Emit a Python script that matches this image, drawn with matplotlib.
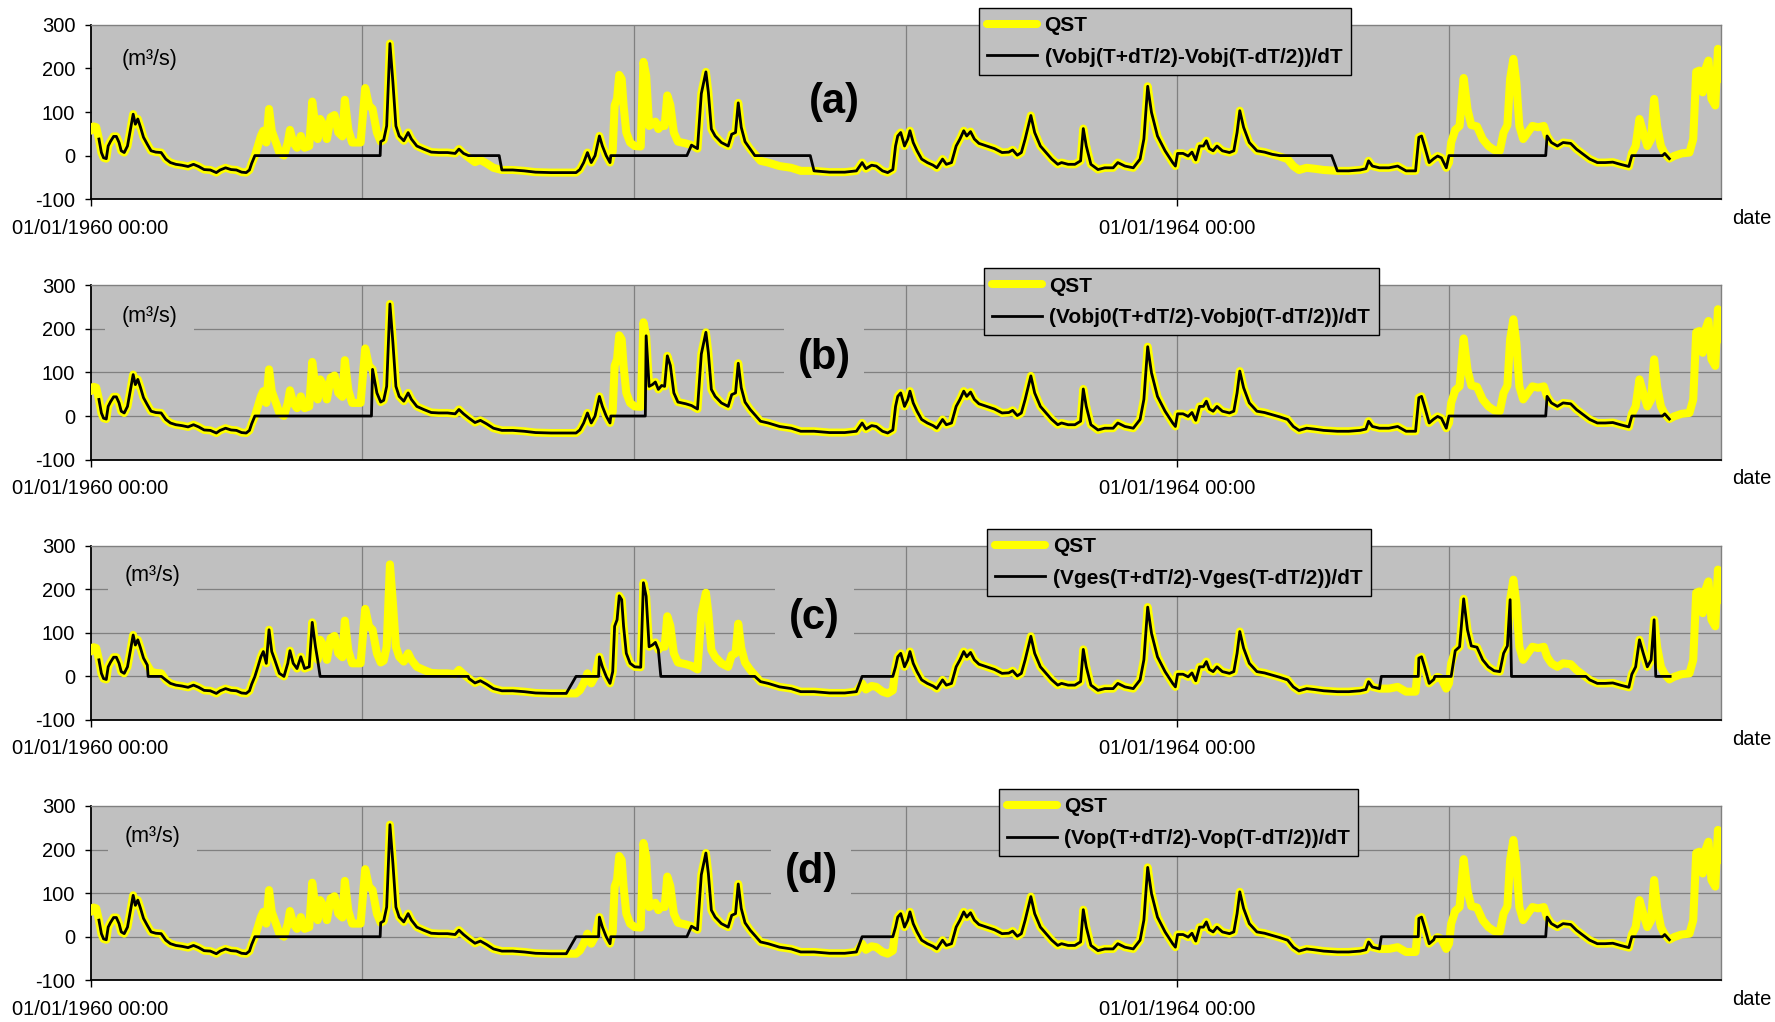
import numpy as np
import matplotlib
matplotlib.use("Agg")
import matplotlib.pyplot as plt

plt.rcParams['font.family'] = ['Liberation Sans', 'DejaVu Sans']
plt.rcParams['axes.unicode_minus'] = False

qst_t = [1960.000, 1960.011, 1960.021, 1960.031, 1960.040, 1960.048, 1960.058, 1960.065, 1960.073, 1960.085,
         1960.095, 1960.105, 1960.113, 1960.124, 1960.136, 1960.145, 1960.157, 1960.165, 1960.174, 1960.184,
         1960.195, 1960.209, 1960.223, 1960.240, 1960.260, 1960.277, 1960.294, 1960.314, 1960.336, 1960.359,
         1960.379, 1960.398, 1960.418, 1960.441, 1960.463, 1960.477, 1960.497, 1960.517, 1960.537, 1960.556,
         1960.573, 1960.585, 1960.593, 1960.605, 1960.616, 1960.627, 1960.636, 1960.647, 1960.657, 1960.667,
         1960.678, 1960.695, 1960.712, 1960.726, 1960.734, 1960.746, 1960.760, 1960.774, 1960.788, 1960.805,
         1960.816, 1960.828, 1960.836, 1960.845, 1960.856, 1960.870, 1960.884, 1960.898, 1960.912, 1960.927,
         1960.936, 1960.949, 1960.963, 1960.994, 1961.011, 1961.025, 1961.038, 1961.054, 1961.068, 1961.079,
         1961.090, 1961.102, 1961.113, 1961.124, 1961.136, 1961.153, 1961.169, 1961.181, 1961.201, 1961.226,
         1961.254, 1961.282, 1961.314, 1961.342, 1961.356, 1961.373, 1961.393, 1961.415, 1961.435, 1961.458,
         1961.483, 1961.514, 1961.554, 1961.596, 1961.638, 1961.695, 1961.751, 1961.787, 1961.801, 1961.815,
         1961.829, 1961.843, 1961.857, 1961.873, 1961.884, 1961.898, 1961.912, 1961.922, 1961.929, 1961.938,
         1961.946, 1961.955, 1961.962, 1961.972, 1961.986, 1962.003, 1962.025, 1962.035, 1962.045, 1962.056,
         1962.068, 1962.079, 1962.090, 1962.102, 1962.113, 1962.123, 1962.134, 1962.147, 1962.162, 1962.191,
         1962.212, 1962.234, 1962.243, 1962.248, 1962.265, 1962.274, 1962.285, 1962.299, 1962.322, 1962.347,
         1962.360, 1962.374, 1962.384, 1962.395, 1962.409, 1962.428, 1962.445, 1962.466, 1962.494, 1962.536,
         1962.579, 1962.614, 1962.663, 1962.720, 1962.776, 1962.819, 1962.840, 1962.854, 1962.875, 1962.892,
         1962.915, 1962.934, 1962.953, 1962.963, 1962.971, 1962.982, 1962.996, 1963.008, 1963.016, 1963.028,
         1963.042, 1963.059, 1963.080, 1963.101, 1963.115, 1963.136, 1963.150, 1963.169, 1963.186, 1963.200,
         1963.214, 1963.225, 1963.239, 1963.253, 1963.270, 1963.298, 1963.327, 1963.355, 1963.380, 1963.394,
         1963.411, 1963.426, 1963.440, 1963.461, 1963.475, 1963.496, 1963.517, 1963.538, 1963.560, 1963.574,
         1963.598, 1963.623, 1963.644, 1963.654, 1963.665, 1963.682, 1963.708, 1963.733, 1963.764, 1963.781,
         1963.807, 1963.838, 1963.863, 1963.877, 1963.891, 1963.905, 1963.927, 1963.955, 1963.983, 1963.993,
         1964.001, 1964.021, 1964.040, 1964.054, 1964.068, 1964.082, 1964.096, 1964.107, 1964.118, 1964.132,
         1964.146, 1964.166, 1964.192, 1964.208, 1964.220, 1964.230, 1964.244, 1964.265, 1964.293, 1964.321,
         1964.349, 1964.377, 1964.406, 1964.427, 1964.448, 1964.476, 1964.504, 1964.539, 1964.589, 1964.631,
         1964.673, 1964.694, 1964.704, 1964.718, 1964.744, 1964.779, 1964.811, 1964.842, 1964.877, 1964.889,
         1964.899, 1964.910, 1964.927, 1964.944, 1964.958, 1964.972, 1964.990, 1965.000, 1965.008, 1965.023,
         1965.039, 1965.054, 1965.068, 1965.082, 1965.103, 1965.124, 1965.145, 1965.166, 1965.187, 1965.201,
         1965.215, 1965.225, 1965.237, 1965.248, 1965.259, 1965.273, 1965.290, 1965.307, 1965.328, 1965.349,
         1965.361, 1965.377, 1965.399, 1965.420, 1965.448, 1965.469, 1965.490, 1965.518, 1965.546, 1965.575,
         1965.603, 1965.631, 1965.662, 1965.673, 1965.687, 1965.701, 1965.715, 1965.730, 1965.744, 1965.755,
         1965.766, 1965.780, 1965.794, 1965.811, 1965.828, 1965.856, 1965.885, 1965.899, 1965.910, 1965.921,
         1965.934, 1965.944, 1965.955, 1965.966, 1965.980, 1965.990, 1965.997]
qst_v = [57, 67, 65, 38, 7, -5, -7, 22, 32, 44,
         44, 30, 11, 7, 22, 53, 95, 72, 84, 65,
         42, 26, 11, 8, 7, -8, -16, -20, -22, -25,
         -20, -25, -32, -33, -39, -33, -28, -32, -33, -38,
         -39, -33, -18, 0, 22, 45, 57, 30, 107, 57,
         38, 7, 0, 30, 59, 30, 18, 45, 18, 22,
         124, 68, 38, 84, 72, 38, 88, 93, 53, 44,
         128, 59, 30, 30, 155, 115, 107, 53, 32, 36,
         68, 257, 168, 68, 45, 34, 53, 38, 22, 15,
         8, 7, 7, 5, 15, 5, -5, -15, -10, -18,
         -28, -33, -33, -35, -38, -39, -39, -39, -32, -16,
         7, -16, 0, 45, 22, 0, -16, 11, 115, 130,
         185, 176, 115, 53, 30, 22, 21, 215, 184, 68,
         72, 78, 61, 70, 68, 138, 116, 53, 32, 28,
         24, 16, 99, 142, 192, 145, 61, 45, 30, 22,
         49, 53, 121, 65, 32, 15, 3, -12, -16, -24,
         -28, -35, -35, -38, -38, -35, -16, -30, -22, -24,
         -35, -39, -32, 22, 45, 53, 22, 38, 57, 30,
         11, -8, -16, -22, -28, -8, -20, -16, 22, 38,
         57, 45, 55, 38, 28, 22, 16, 7, 8, 13,
         1, 7, 38, 92, 53, 22, 7, -8, -20, -16,
         -20, -20, -12, 62, 22, -20, -32, -28, -28, -16,
         -24, -28, -8, 38, 159, 99, 45, 11, -16, -24,
         5, 5, -1, 8, -10, 22, 22, 34, 16, 11,
         22, 11, 7, 11, 53, 103, 65, 30, 11, 8,
         3, -2, -8, -24, -33, -28, -30, -33, -35, -35,
         -33, -30, -12, -24, -28, -28, -24, -35, -35, 42,
         45, 22, -16, -7, -1, -5, -28, -16, 30, 59,
         68, 178, 107, 70, 67, 38, 22, 13, 11, 53,
         70, 176, 222, 168, 68, 38, 53, 68, 65, 68,
         45, 30, 22, 30, 28, 15, 5, -8, -16, -16,
         -15, -20, -25, 5, 22, 84, 53, 22, 38, 130,
         68, 22, 5, -7, -1, 5, 7, 38, 192, 195,
         145, 199, 218, 130, 115, 245, 176]

# computed series (Vx(T+dT/2)-Vx(T-dT/2))/dT: span covered and periods where it stays flat at 0
black_start = 1960.028
black_end = 1965.821
flat_a = [(1960.605, 1961.066), (1961.391, 1961.504), (1961.915, 1962.195), (1962.445, 1962.649),
          (1964.377, 1964.568), (1965.000, 1965.356), (1965.673, 1965.786)]
flat_b = [(1960.605, 1961.034), (1961.915, 1962.042), (1965.000, 1965.356), (1965.673, 1965.786)]
flat_c = [(1960.212, 1960.261), (1960.845, 1961.390), (1961.787, 1961.870), (1962.099, 1962.445),
          (1962.840, 1962.953), (1964.751, 1964.887), (1964.948, 1965.008), (1965.230, 1965.504),
          (1965.761, 1965.814)]
flat_d = [(1960.605, 1961.066), (1961.787, 1961.870), (1961.915, 1962.195), (1962.840, 1962.953),
          (1964.751, 1964.887), (1964.948, 1965.356), (1965.673, 1965.786)]

panel_tags = ['(a)', '(b)', '(c)', '(d)']
black_names = ['(Vobj(T+dT/2)-Vobj(T-dT/2))/dT',
               '(Vobj0(T+dT/2)-Vobj0(T-dT/2))/dT',
               '(Vges(T+dT/2)-Vges(T-dT/2))/dT',
               '(Vop(T+dT/2)-Vop(T-dT/2))/dT']
flats = [flat_a, flat_b, flat_c, flat_d]

y_ticks = [-100, 0, 100, 200, 300]
x_ticks = [1960, 1964]
x_ticklabels = ['01/01/1960 00:00', '01/01/1964 00:00']
grid_years = [1961, 1962, 1963, 1964, 1965]


def black_curve(windows):
    t = np.array(qst_t)
    v = np.array(qst_v, dtype=float)
    keep = (t >= black_start) & (t <= black_end)
    for a, b in windows:
        keep &= ~((t >= a) & (t <= b))
    bt = list(t[keep])
    bv = list(v[keep])
    for a, b in windows:
        bt += [a, b]
        bv += [0, 0]
    order = np.argsort(bt, kind='stable')
    return np.array(bt)[order], np.array(bv)[order]


fig = plt.figure(figsize=(17.75, 10.22), dpi=100)
bottoms = [0.8051, 0.5503, 0.2955, 0.0408]
leg_x = [0.545, 0.548, 0.550, 0.557]
tag_pos = [(0.456, 0.558), (0.450, 0.583), (0.444, 0.584), (0.442, 0.620)]
unit_pos = [(0.036, 0.800), (0.036, 0.818), (0.038, 0.826), (0.038, 0.824)]
hgrid = [False, True, True, True]
bg = '#C0C0C0'

for i in range(4):
    ax = fig.add_axes([0.0510, bottoms[i], 0.9184, 0.1706])
    ax.set_facecolor(bg)
    ax.set_xlim(1960, 1966)
    ax.set_ylim(-100, 300)

    for yr in grid_years:
        ax.axvline(yr, color='#808080', lw=0.9, zorder=1)
    if hgrid[i]:
        for yv in [0, 100, 200]:
            ax.axhline(yv, color='#808080', lw=0.9, zorder=1)

    l1, = ax.plot(qst_t, qst_v, color='#FFFF00', lw=5.8, solid_joinstyle='round',
                  solid_capstyle='round', zorder=3)
    bt, bv = black_curve(flats[i])
    l2, = ax.plot(bt, bv, color='black', lw=2.0, zorder=4)

    ax.set_yticks(y_ticks)
    ax.set_xticks(x_ticks)
    ax.set_xticklabels(x_ticklabels)
    ax.tick_params(axis='y', length=4, width=1, pad=7, labelsize=14.5)
    ax.tick_params(axis='x', length=5, width=1, pad=9, labelsize=14.5)
    for s in ['left', 'bottom']:
        ax.spines[s].set_color('black')
        ax.spines[s].set_linewidth(1.3)
    for s in ['top', 'right']:
        ax.spines[s].set_color('#808080')
        ax.spines[s].set_linewidth(1.0)

    ax.text(unit_pos[i][0], unit_pos[i][1], '(m³/s)', transform=ax.transAxes, fontsize=15.5,
            ha='center', va='center', zorder=5,
            bbox=dict(facecolor=bg, edgecolor='none', pad=12))
    ax.text(tag_pos[i][0], tag_pos[i][1], panel_tags[i], transform=ax.transAxes, fontsize=30,
            fontweight='bold', ha='center', va='center', zorder=5,
            bbox=dict(facecolor=bg, edgecolor='none', pad=10))
    ax.text(1.019, -0.11, 'date', transform=ax.transAxes, fontsize=14.5, ha='center', va='center')

    leg = ax.legend([l1, l2], ['QST', black_names[i]], loc='upper left',
                    bbox_to_anchor=(leg_x[i], 1.097), prop={'weight': 'bold', 'size': 15},
                    facecolor=bg, edgecolor='black', framealpha=1, fancybox=False,
                    borderpad=0.4, labelspacing=0.6, handlelength=2.4, handletextpad=0.35,
                    borderaxespad=0)
    leg.get_frame().set_linewidth(1.0)
    leg.set_zorder(10)

fig.savefig('out.png', dpi=100)
